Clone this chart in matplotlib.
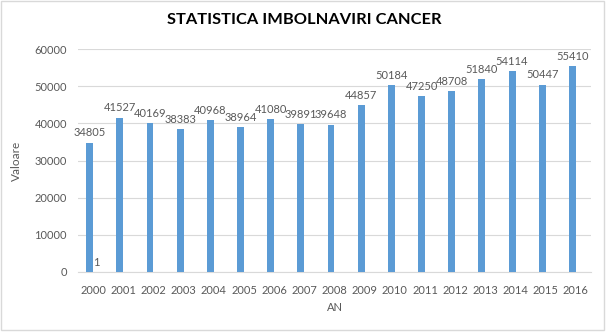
import numpy as np
import matplotlib.pyplot as plt
from matplotlib.patches import Rectangle

# date
ani = ['2000', '2001', '2002', '2003', '2004', '2005', '2006', '2007', '2008',
       '2009', '2010', '2011', '2012', '2013', '2014', '2015', '2016']
valori = [34805, 41527, 40169, 38383, 40968, 38964, 41080, 39891, 39648,
          44857, 50184, 47250, 48708, 51840, 54114, 50447, 55410]
serie2 = [1]  # a doua serie, doar pentru 2000

plt.rcParams['font.family'] = ['Lato', 'DejaVu Sans']
gri = '#595959'
fs = 8

fig = plt.figure(figsize=(6.09, 3.32), dpi=100)
ax = fig.add_axes([78/609, 1 - 272/332, (591 - 78)/609, (272 - 49)/332])

x = np.arange(len(ani))
w = 0.23
bare = ax.bar(x - w/2, valori, width=w, color='#5B9BD5', zorder=3)
bare2 = ax.bar(x[:len(serie2)] + w/2, serie2, width=w, color='#ED7D31', zorder=3)

for b, v in zip(bare, valori):
    ax.annotate(str(v), (b.get_x() + b.get_width()/2, v), xytext=(0, 3),
                textcoords='offset points', ha='center', va='bottom',
                fontsize=fs, color=gri)
for b, v in zip(bare2, serie2):
    ax.annotate(str(v), (b.get_x() + b.get_width()/2, v), xytext=(0, 3),
                textcoords='offset points', ha='center', va='bottom',
                fontsize=fs, color=gri)

ax.set_xlim(-0.5, len(ani) - 0.5)
ax.set_ylim(0, 60000)
ax.set_yticks(range(0, 60001, 10000))
ax.set_xticks(x)
ax.set_xticklabels(ani)
ax.tick_params(length=0, labelsize=fs, labelcolor=gri)
ax.tick_params(axis='x', pad=9)
ax.tick_params(axis='y', pad=8)
ax.grid(axis='y', color='#D9D9D9', linewidth=0.8, zorder=0)
for s in ['top', 'right', 'left']:
    ax.spines[s].set_visible(False)
ax.spines['bottom'].set_color('#D9D9D9')

ax.set_xlabel('AN', fontsize=fs, color=gri, labelpad=5)
ax.set_ylabel('Valoare', fontsize=fs + 0.5, color=gri, labelpad=9)
fig.text(0.5, 1 - 20/332, 'STATISTICA IMBOLNAVIRI CANCER', ha='center',
         va='center', fontsize=11.8, fontweight='bold', color='#000000')

fig.patches.append(Rectangle((1/609, 2/332), 603/609, 329/332,
                             transform=fig.transFigure, fill=False,
                             edgecolor='#D9D9D9', linewidth=1))

fig.savefig('out.png', dpi=100)
